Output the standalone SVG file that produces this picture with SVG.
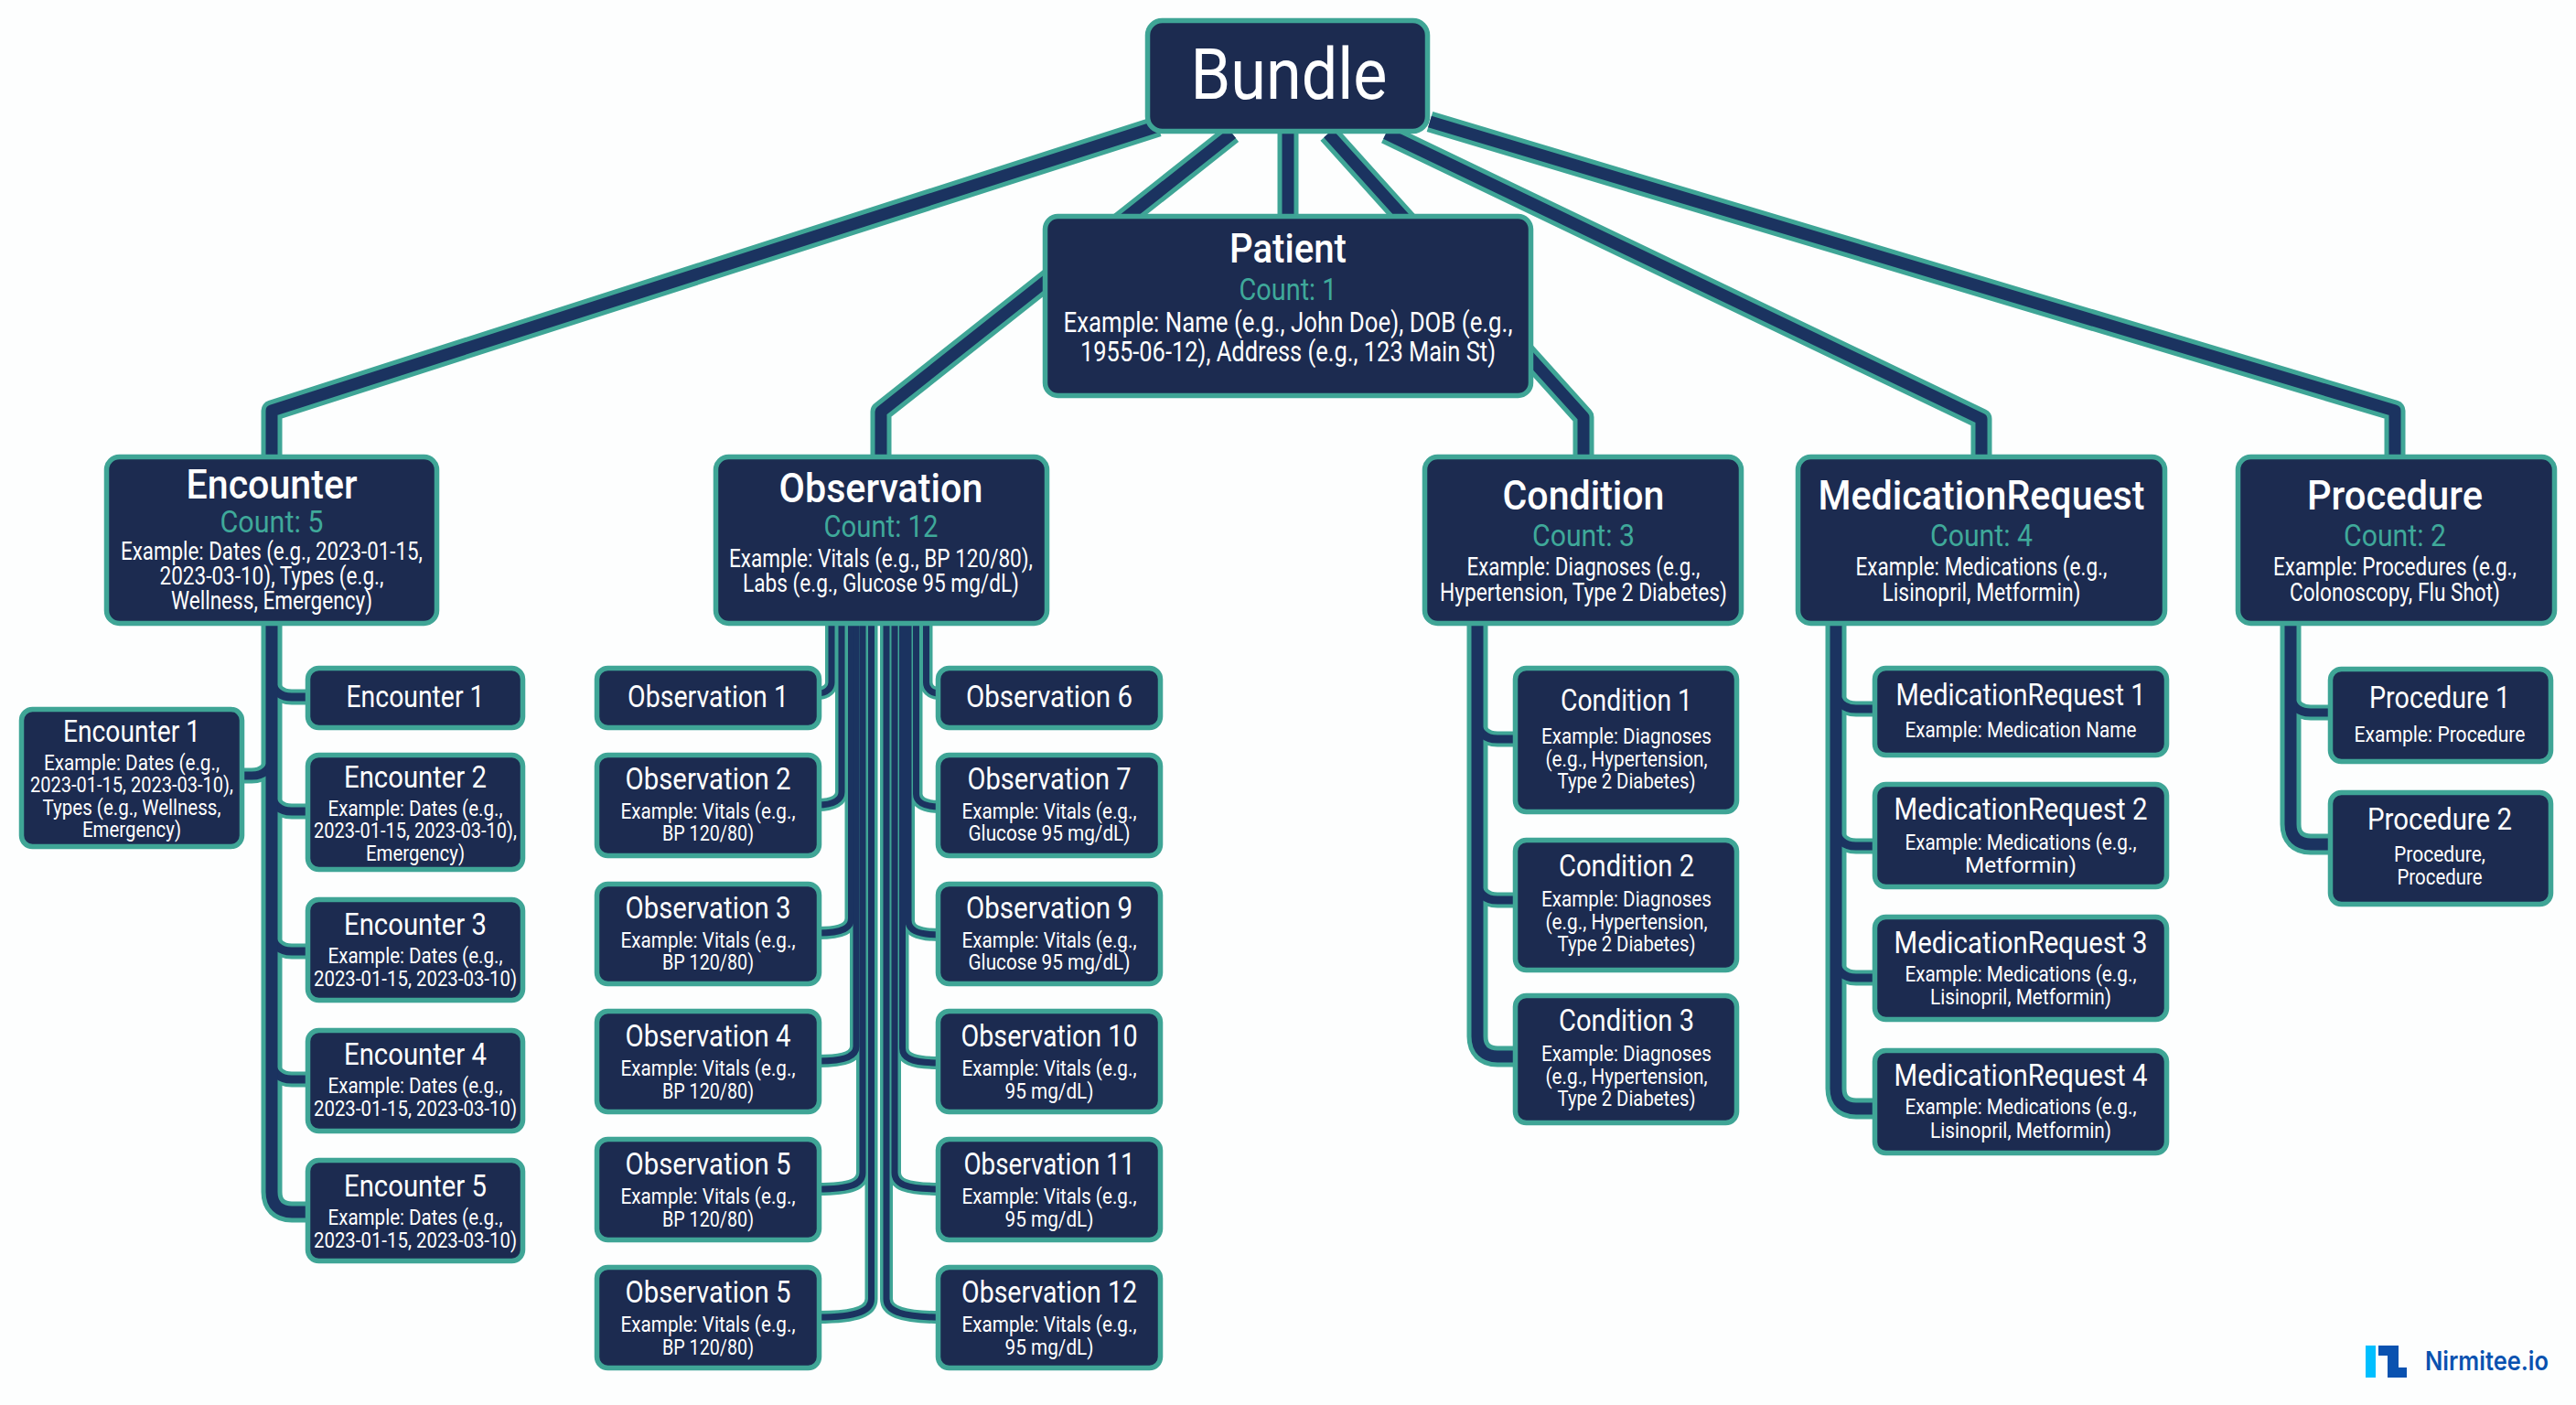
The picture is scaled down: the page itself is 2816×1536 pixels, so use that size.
<svg xmlns="http://www.w3.org/2000/svg" width="2816" height="1536" viewBox="0 0 2816 1536">
<style>
.box{fill:#1c2b50;stroke:#3fa596;stroke-width:5.5}
text{font-family:Roboto,"Liberation Sans",sans-serif;text-anchor:middle;fill:#fff}
.h{font-size:44px;font-weight:500}
.c{font-size:34px;fill:#3fa99a}
.e{font-size:27px}
.s{font-size:33px}
.x{font-size:24px}
.line{fill:none;stroke-linejoin:round}
</style>
<rect width="2816" height="1536" fill="#fdfefe"/>
<g id="connectors">
<defs>
<g id="wide">
<path d="M1266 138L297 449V500"/>
<path d="M1347 146L963 450V500"/>
<path d="M1408 146V240"/>
<path d="M1452 146L1731 456V500"/>
<path d="M1515 146L2166 458V500"/>
<path d="M1563 133L2618 449V500"/>
<path d="M297 680V1303C297 1317 305 1325 319 1325H340"/>
<path d="M1615 680V1133C1615 1147 1623 1155 1637 1155H1660"/>
<path d="M2007 680V1190C2007 1204 2015 1212 2029 1212H2052"/>
<path d="M2504 680V901C2504 915 2512 923 2526 923H2550"/>
</g>
<g id="branches">
<path d="M297 740C297 754 305 762 319 762H340"/>
<path d="M297 826C297 840 289 848 275 848H262"/>
<path d="M297 865C297 879 305 887 319 887H340"/>
<path d="M297 1018C297 1032 305 1040 319 1040H340"/>
<path d="M297 1158C297 1172 305 1180 319 1180H340"/>
<path d="M1615 786C1615 800 1623 808 1637 808H1660"/>
<path d="M1615 962C1615 976 1623 984 1637 984H1660"/>
<path d="M2007 753C2007 767 2015 775 2029 775H2052"/>
<path d="M2007 903C2007 917 2015 925 2029 925H2052"/>
<path d="M2007 1047C2007 1061 2015 1069 2029 1069H2052"/>
<path d="M2504 757C2504 771 2512 779 2526 779H2550"/>
</g>
<g id="strands">
<path d="M909 680V746C909 752 904 758 894 758"/>
<path d="M920 680V866C920 874 912 880 894 880"/>
<path d="M930.5 680V1004C930.5 1014 922 1020 894 1020"/>
<path d="M936 680V1144C936 1154 926 1160 894 1160"/>
<path d="M943 680V1282C943 1294 932 1300 894 1300"/>
<path d="M952.5 680V1420C952.5 1432 940 1440 894 1440"/>
<path d="M1012.5 680V746C1012.5 752 1017 758 1027 758"/>
<path d="M1001.5 680V868C1001.5 876 1009 882 1027 882"/>
<path d="M993 680V1006C993 1016 1001 1022 1027 1022"/>
<path d="M986.5 680V1146C986.5 1156 995 1162 1027 1162"/>
<path d="M978 680V1282C978 1294 989 1300 1027 1300"/>
<path d="M969 680V1420C969 1432 982 1440 1027 1440"/>
</g>
</defs>
<use href="#strands" class="line" stroke="#3fa596" stroke-width="14"/>
<use href="#strands" class="line" stroke="#1b3360" stroke-width="7"/>
<use href="#branches" class="line" stroke="#3fa596" stroke-width="17"/>
<use href="#wide" class="line" stroke="#3fa596" stroke-width="23"/>
<use href="#branches" class="line" stroke="#1b3360" stroke-width="9"/>
<use href="#wide" class="line" stroke="#1b3360" stroke-width="13"/>
</g>
<g id="bundle"><rect class="box" x="1254.5" y="22.5" width="306" height="121" rx="16"/><text x="1409" y="108" font-size="78" textLength="215" lengthAdjust="spacingAndGlyphs">Bundle</text></g>
<g id="patient"><rect class="box" x="1142.5" y="236.5" width="531" height="196" rx="14"/>
<text class="h" x="1408" y="287" textLength="128" lengthAdjust="spacingAndGlyphs">Patient</text>
<text class="c" x="1408" y="328" textLength="107" lengthAdjust="spacingAndGlyphs">Count: 1</text>
<text x="1408" y="363" font-size="31" textLength="491" lengthAdjust="spacingAndGlyphs">Example: Name (e.g., John Doe), DOB (e.g.,</text>
<text x="1408" y="395" font-size="31" textLength="454" lengthAdjust="spacingAndGlyphs">1955-06-12), Address (e.g., 123 Main St)</text></g>
<g id="encounter"><rect class="box" x="116.5" y="499.5" width="361" height="182" rx="14"/>
<text class="h" x="297" y="545" textLength="187" lengthAdjust="spacingAndGlyphs">Encounter</text>
<text class="c" x="297" y="582" textLength="113" lengthAdjust="spacingAndGlyphs">Count: 5</text>
<text class="e" x="297" y="612" textLength="330" lengthAdjust="spacingAndGlyphs">Example: Dates (e.g., 2023-01-15,</text>
<text class="e" x="297" y="639" textLength="245" lengthAdjust="spacingAndGlyphs">2023-03-10), Types (e.g.,</text>
<text class="e" x="297" y="666" textLength="220" lengthAdjust="spacingAndGlyphs">Wellness, Emergency)</text></g>
<g id="observation"><rect class="box" x="782.5" y="499.5" width="362" height="182" rx="14"/>
<text class="h" x="963" y="549" textLength="223" lengthAdjust="spacingAndGlyphs">Observation</text>
<text class="c" x="963" y="587" textLength="125" lengthAdjust="spacingAndGlyphs">Count: 12</text>
<text class="e" x="963" y="620" textLength="332" lengthAdjust="spacingAndGlyphs">Example: Vitals (e.g., BP 120/80),</text>
<text class="e" x="963" y="647" textLength="302" lengthAdjust="spacingAndGlyphs">Labs (e.g., Glucose 95 mg/dL)</text></g>
<g id="condition"><rect class="box" x="1557.5" y="499.5" width="346" height="182" rx="14"/>
<text class="h" x="1731" y="557" textLength="177" lengthAdjust="spacingAndGlyphs">Condition</text>
<text class="c" x="1731" y="597" textLength="112" lengthAdjust="spacingAndGlyphs">Count: 3</text>
<text class="e" x="1731" y="629" textLength="255" lengthAdjust="spacingAndGlyphs">Example: Diagnoses (e.g.,</text>
<text class="e" x="1731" y="657" textLength="314" lengthAdjust="spacingAndGlyphs">Hypertension, Type 2 Diabetes)</text></g>
<g id="medicationrequest"><rect class="box" x="1965.5" y="499.5" width="401" height="182" rx="14"/>
<text class="h" x="2166" y="557" textLength="357" lengthAdjust="spacingAndGlyphs">MedicationRequest</text>
<text class="c" x="2166" y="597" textLength="112" lengthAdjust="spacingAndGlyphs">Count: 4</text>
<text class="e" x="2166" y="629" textLength="275" lengthAdjust="spacingAndGlyphs">Example: Medications (e.g.,</text>
<text class="e" x="2166" y="657" textLength="217" lengthAdjust="spacingAndGlyphs">Lisinopril, Metformin)</text></g>
<g id="procedure"><rect class="box" x="2446.5" y="499.5" width="346" height="182" rx="14"/>
<text class="h" x="2618" y="557" textLength="192" lengthAdjust="spacingAndGlyphs">Procedure</text>
<text class="c" x="2618" y="597" textLength="112" lengthAdjust="spacingAndGlyphs">Count: 2</text>
<text class="e" x="2618" y="629" textLength="266" lengthAdjust="spacingAndGlyphs">Example: Procedures (e.g.,</text>
<text class="e" x="2618" y="657" textLength="230" lengthAdjust="spacingAndGlyphs">Colonoscopy, Flu Shot)</text></g>

<g id="encounter-1a"><rect class="box" x="336.5" y="730.5" width="235" height="65" rx="12"/>
<text class="s" x="454" y="773" textLength="151" lengthAdjust="spacingAndGlyphs">Encounter 1</text></g>
<g id="encounter-1b"><rect class="box" x="23.5" y="775.5" width="241" height="150" rx="12"/>
<text class="s" x="144" y="811" textLength="150" lengthAdjust="spacingAndGlyphs">Encounter 1</text>
<text class="x" x="144" y="842" textLength="192" lengthAdjust="spacingAndGlyphs">Example: Dates (e.g.,</text>
<text class="x" x="144" y="866" textLength="222" lengthAdjust="spacingAndGlyphs">2023-01-15, 2023-03-10),</text>
<text class="x" x="144" y="891" textLength="195" lengthAdjust="spacingAndGlyphs">Types (e.g., Wellness,</text>
<text class="x" x="144" y="915" textLength="108" lengthAdjust="spacingAndGlyphs">Emergency)</text></g>
<g id="encounter-2"><rect class="box" x="336.5" y="825.5" width="235" height="125" rx="12"/>
<text class="s" x="454" y="861" textLength="156" lengthAdjust="spacingAndGlyphs">Encounter 2</text>
<text class="x" x="454" y="892" textLength="191" lengthAdjust="spacingAndGlyphs">Example: Dates (e.g.,</text>
<text class="x" x="454" y="916" textLength="222" lengthAdjust="spacingAndGlyphs">2023-01-15, 2023-03-10),</text>
<text class="x" x="454" y="941" textLength="108" lengthAdjust="spacingAndGlyphs">Emergency)</text></g>
<g id="encounter-3"><rect class="box" x="336.5" y="983.5" width="235" height="110" rx="12"/>
<text class="s" x="454" y="1022" textLength="156" lengthAdjust="spacingAndGlyphs">Encounter 3</text>
<text class="x" x="454" y="1053" textLength="191" lengthAdjust="spacingAndGlyphs">Example: Dates (e.g.,</text>
<text class="x" x="454" y="1078" textLength="222" lengthAdjust="spacingAndGlyphs">2023-01-15, 2023-03-10)</text></g>
<g id="encounter-4"><rect class="box" x="336.5" y="1126.5" width="235" height="110" rx="12"/>
<text class="s" x="454" y="1164" textLength="156" lengthAdjust="spacingAndGlyphs">Encounter 4</text>
<text class="x" x="454" y="1195" textLength="191" lengthAdjust="spacingAndGlyphs">Example: Dates (e.g.,</text>
<text class="x" x="454" y="1220" textLength="222" lengthAdjust="spacingAndGlyphs">2023-01-15, 2023-03-10)</text></g>
<g id="encounter-5"><rect class="box" x="336.5" y="1268.5" width="235" height="110" rx="12"/>
<text class="s" x="454" y="1308" textLength="156" lengthAdjust="spacingAndGlyphs">Encounter 5</text>
<text class="x" x="454" y="1339" textLength="191" lengthAdjust="spacingAndGlyphs">Example: Dates (e.g.,</text>
<text class="x" x="454" y="1364" textLength="222" lengthAdjust="spacingAndGlyphs">2023-01-15, 2023-03-10)</text></g>

<g id="observation-1"><rect class="box" x="652.5" y="730.5" width="243" height="65" rx="12"/>
<text class="s" x="774" y="773" textLength="176" lengthAdjust="spacingAndGlyphs">Observation 1</text></g>
<g id="observation-2"><rect class="box" x="652.5" y="825.5" width="243" height="110" rx="12"/>
<text class="s" x="774" y="863" textLength="181" lengthAdjust="spacingAndGlyphs">Observation 2</text>
<text class="x" x="774" y="895" textLength="191" lengthAdjust="spacingAndGlyphs">Example: Vitals (e.g.,</text>
<text class="x" x="774" y="919" textLength="100" lengthAdjust="spacingAndGlyphs">BP 120/80)</text></g>
<g id="observation-3"><rect class="box" x="652.5" y="966.5" width="243" height="109" rx="12"/>
<text class="s" x="774" y="1004" textLength="181" lengthAdjust="spacingAndGlyphs">Observation 3</text>
<text class="x" x="774" y="1036" textLength="191" lengthAdjust="spacingAndGlyphs">Example: Vitals (e.g.,</text>
<text class="x" x="774" y="1060" textLength="100" lengthAdjust="spacingAndGlyphs">BP 120/80)</text></g>
<g id="observation-4"><rect class="box" x="652.5" y="1105.5" width="243" height="110" rx="12"/>
<text class="s" x="774" y="1144" textLength="181" lengthAdjust="spacingAndGlyphs">Observation 4</text>
<text class="x" x="774" y="1176" textLength="191" lengthAdjust="spacingAndGlyphs">Example: Vitals (e.g.,</text>
<text class="x" x="774" y="1201" textLength="100" lengthAdjust="spacingAndGlyphs">BP 120/80)</text></g>
<g id="observation-5a"><rect class="box" x="652.5" y="1245.5" width="243" height="110" rx="12"/>
<text class="s" x="774" y="1284" textLength="181" lengthAdjust="spacingAndGlyphs">Observation 5</text>
<text class="x" x="774" y="1316" textLength="191" lengthAdjust="spacingAndGlyphs">Example: Vitals (e.g.,</text>
<text class="x" x="774" y="1341" textLength="100" lengthAdjust="spacingAndGlyphs">BP 120/80)</text></g>
<g id="observation-5b"><rect class="box" x="652.5" y="1385.5" width="243" height="110" rx="12"/>
<text class="s" x="774" y="1424" textLength="181" lengthAdjust="spacingAndGlyphs">Observation 5</text>
<text class="x" x="774" y="1456" textLength="191" lengthAdjust="spacingAndGlyphs">Example: Vitals (e.g.,</text>
<text class="x" x="774" y="1481" textLength="100" lengthAdjust="spacingAndGlyphs">BP 120/80)</text></g>
<g id="observation-6"><rect class="box" x="1025.5" y="730.5" width="243" height="65" rx="12"/>
<text class="s" x="1147" y="773" textLength="182" lengthAdjust="spacingAndGlyphs">Observation 6</text></g>
<g id="observation-7"><rect class="box" x="1025.5" y="825.5" width="243" height="110" rx="12"/>
<text class="s" x="1147" y="863" textLength="179" lengthAdjust="spacingAndGlyphs">Observation 7</text>
<text class="x" x="1147" y="895" textLength="191" lengthAdjust="spacingAndGlyphs">Example: Vitals (e.g.,</text>
<text class="x" x="1147" y="919" textLength="177" lengthAdjust="spacingAndGlyphs">Glucose 95 mg/dL)</text></g>
<g id="observation-9"><rect class="box" x="1025.5" y="966.5" width="243" height="109" rx="12"/>
<text class="s" x="1147" y="1004" textLength="182" lengthAdjust="spacingAndGlyphs">Observation 9</text>
<text class="x" x="1147" y="1036" textLength="191" lengthAdjust="spacingAndGlyphs">Example: Vitals (e.g.,</text>
<text class="x" x="1147" y="1060" textLength="177" lengthAdjust="spacingAndGlyphs">Glucose 95 mg/dL)</text></g>
<g id="observation-10"><rect class="box" x="1025.5" y="1105.5" width="243" height="110" rx="12"/>
<text class="s" x="1147" y="1144" textLength="193" lengthAdjust="spacingAndGlyphs">Observation 10</text>
<text class="x" x="1147" y="1176" textLength="191" lengthAdjust="spacingAndGlyphs">Example: Vitals (e.g.,</text>
<text class="x" x="1147" y="1201" textLength="97" lengthAdjust="spacingAndGlyphs">95 mg/dL)</text></g>
<g id="observation-11"><rect class="box" x="1025.5" y="1245.5" width="243" height="110" rx="12"/>
<text class="s" x="1147" y="1284" textLength="187" lengthAdjust="spacingAndGlyphs">Observation 11</text>
<text class="x" x="1147" y="1316" textLength="191" lengthAdjust="spacingAndGlyphs">Example: Vitals (e.g.,</text>
<text class="x" x="1147" y="1341" textLength="97" lengthAdjust="spacingAndGlyphs">95 mg/dL)</text></g>
<g id="observation-12"><rect class="box" x="1025.5" y="1385.5" width="243" height="110" rx="12"/>
<text class="s" x="1147" y="1424" textLength="192" lengthAdjust="spacingAndGlyphs">Observation 12</text>
<text class="x" x="1147" y="1456" textLength="191" lengthAdjust="spacingAndGlyphs">Example: Vitals (e.g.,</text>
<text class="x" x="1147" y="1481" textLength="97" lengthAdjust="spacingAndGlyphs">95 mg/dL)</text></g>

<g id="condition-1"><rect class="box" x="1656.5" y="730.5" width="242" height="157" rx="12"/>
<text class="s" x="1778" y="777" textLength="144" lengthAdjust="spacingAndGlyphs">Condition 1</text>
<text class="x" x="1778" y="813" textLength="186" lengthAdjust="spacingAndGlyphs">Example: Diagnoses</text>
<text class="x" x="1778" y="838" textLength="177" lengthAdjust="spacingAndGlyphs">(e.g., Hypertension,</text>
<text class="x" x="1778" y="862" textLength="151" lengthAdjust="spacingAndGlyphs">Type 2 Diabetes)</text></g>
<g id="condition-2"><rect class="box" x="1656.5" y="918.5" width="242" height="142" rx="12"/>
<text class="s" x="1778" y="958" textLength="148" lengthAdjust="spacingAndGlyphs">Condition 2</text>
<text class="x" x="1778" y="991" textLength="186" lengthAdjust="spacingAndGlyphs">Example: Diagnoses</text>
<text class="x" x="1778" y="1016" textLength="177" lengthAdjust="spacingAndGlyphs">(e.g., Hypertension,</text>
<text class="x" x="1778" y="1040" textLength="151" lengthAdjust="spacingAndGlyphs">Type 2 Diabetes)</text></g>
<g id="condition-3"><rect class="box" x="1656.5" y="1088.5" width="242" height="139" rx="12"/>
<text class="s" x="1778" y="1127" textLength="148" lengthAdjust="spacingAndGlyphs">Condition 3</text>
<text class="x" x="1778" y="1160" textLength="186" lengthAdjust="spacingAndGlyphs">Example: Diagnoses</text>
<text class="x" x="1778" y="1185" textLength="177" lengthAdjust="spacingAndGlyphs">(e.g., Hypertension,</text>
<text class="x" x="1778" y="1209" textLength="151" lengthAdjust="spacingAndGlyphs">Type 2 Diabetes)</text></g>

<g id="medicationrequest-1"><rect class="box" x="2049.5" y="730.5" width="319" height="95" rx="12"/>
<text class="s" x="2209" y="771" textLength="273" lengthAdjust="spacingAndGlyphs">MedicationRequest 1</text>
<text class="x" x="2209" y="806" textLength="253" lengthAdjust="spacingAndGlyphs">Example: Medication Name</text></g>
<g id="medicationrequest-2"><rect class="box" x="2049.5" y="857.5" width="319" height="112" rx="12"/>
<text class="s" x="2209" y="896" textLength="277" lengthAdjust="spacingAndGlyphs">MedicationRequest 2</text>
<text class="x" x="2209" y="929" textLength="253" lengthAdjust="spacingAndGlyphs">Example: Medications (e.g.,</text>
<text class="x" x="2209" y="954" textLength="122" lengthAdjust="spacingAndGlyphs">Metformin)</text></g>
<g id="medicationrequest-3"><rect class="box" x="2049.5" y="1002.5" width="319" height="112" rx="12"/>
<text class="s" x="2209" y="1042" textLength="277" lengthAdjust="spacingAndGlyphs">MedicationRequest 3</text>
<text class="x" x="2209" y="1073" textLength="253" lengthAdjust="spacingAndGlyphs">Example: Medications (e.g.,</text>
<text class="x" x="2209" y="1098" textLength="198" lengthAdjust="spacingAndGlyphs">Lisinopril, Metformin)</text></g>
<g id="medicationrequest-4"><rect class="box" x="2049.5" y="1148.5" width="319" height="112" rx="12"/>
<text class="s" x="2209" y="1187" textLength="277" lengthAdjust="spacingAndGlyphs">MedicationRequest 4</text>
<text class="x" x="2209" y="1218" textLength="253" lengthAdjust="spacingAndGlyphs">Example: Medications (e.g.,</text>
<text class="x" x="2209" y="1244" textLength="198" lengthAdjust="spacingAndGlyphs">Lisinopril, Metformin)</text></g>

<g id="procedure-1"><rect class="box" x="2547.5" y="731.5" width="241" height="101" rx="12"/>
<text class="s" x="2667" y="774" textLength="154" lengthAdjust="spacingAndGlyphs">Procedure 1</text>
<text class="x" x="2667" y="811" textLength="187" lengthAdjust="spacingAndGlyphs">Example: Procedure</text></g>
<g id="procedure-2"><rect class="box" x="2547.5" y="866.5" width="241" height="122" rx="12"/>
<text class="s" x="2667" y="907" textLength="158" lengthAdjust="spacingAndGlyphs">Procedure 2</text>
<text class="x" x="2667" y="942" textLength="100" lengthAdjust="spacingAndGlyphs">Procedure,</text>
<text class="x" x="2667" y="967" textLength="93" lengthAdjust="spacingAndGlyphs">Procedure</text></g>

<g id="logo">
<rect x="2586" y="1471" width="11" height="35" fill="#00bfff"/>
<path d="M2600 1471H2622V1495H2631V1506H2610V1482H2600Z" fill="#0a52b0"/>
<text x="2718.5" y="1498" font-size="28" font-weight="600" textLength="135" lengthAdjust="spacingAndGlyphs" style="font-family:Inter,'Liberation Sans',sans-serif;fill:#0a52b0">Nirmitee.io</text>
</g>
</svg>
